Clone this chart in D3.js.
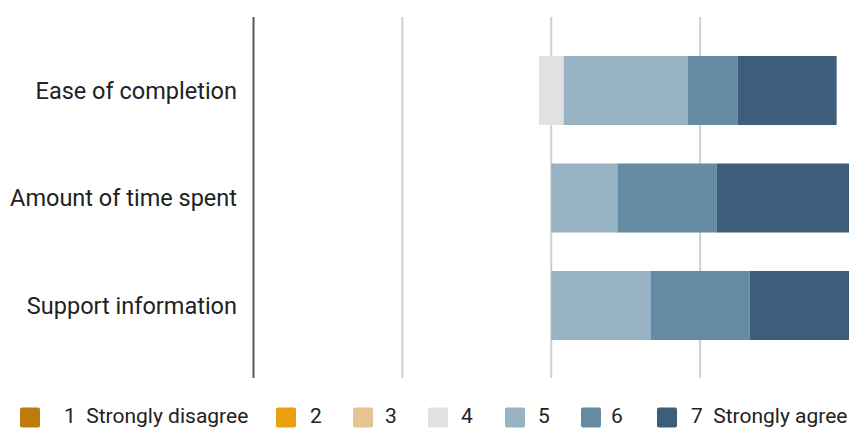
<!DOCTYPE html>
<html>
<head>
<meta charset="utf-8">
<script src="https://cdn.jsdelivr.net/npm/d3@7"></script>
<style>
  html, body { margin: 0; padding: 0; background: #fff; }
  svg { display: block; font-family: Roboto, "Noto Sans", sans-serif; }
</style>
</head>
<body>
<svg id="chart" width="850" height="429"></svg>
<script>
// Survey questions (rows) and Likert answer levels
const categories = ["Ease of completion", "Amount of time spent", "Support information"];
const levels = ["1", "2", "3", "4", "5", "6", "7"];
const levelLabels = ["1  Strongly disagree", "2", "3", "4", "5", "6", "7  Strongly agree"];
const levelColors = ["#bf7a0c", "#e9a00c", "#e6c48f", "#e1e1e1", "#97b3c4", "#648ba3", "#3c5e7a"];

// Share of responses (%) for each level, one array per question
const easeOfCompletion = [0, 0, 0, 8.3, 41.7, 16.7, 33.3];
const amountOfTimeSpent = [0, 0, 0, 0, 22.2, 33.3, 44.5];
const supportInformation = [0, 0, 0, 0, 33.3, 33.3, 33.4];
const seriesValues = [easeOfCompletion, amountOfTimeSpent, supportInformation];

const gridTicks = [-100, -50, 0, 50];

const svg = d3.select("#chart");

const x = d3.scaleLinear().domain([-100, 100]).range([253.5, 849]);
const y = d3.scaleBand().domain(categories).range([36.75, 359.25]).paddingInner(0.358).paddingOuter(0.179);

// Vertical grid lines; the leftmost acts as the axis line
svg.append("g").selectAll("line")
  .data(gridTicks)
  .join("line")
  .attr("x1", d => x(d)).attr("x2", d => x(d))
  .attr("y1", 17).attr("y2", 378)
  .attr("stroke", d => d === -100 ? "#5a5a5a" : "#cfcfcf")
  .attr("stroke-width", 2);

// Diverging stack: levels 1-3 and half of 4 to the left, rest to the right
const segments = [];
categories.forEach((cat, i) => {
  const vals = seriesValues[i];
  const leftTotal = vals[0] + vals[1] + vals[2] + vals[3] / 2;
  let start = -leftTotal;
  vals.forEach((v, j) => {
    segments.push({ cat, level: levels[j], x0: start, x1: start + v, color: levelColors[j] });
    start += v;
  });
});

svg.append("g").selectAll("rect")
  .data(segments.filter(d => d.x1 > d.x0))
  .join("rect")
  .attr("x", d => x(d.x0))
  .attr("width", d => x(d.x1) - x(d.x0))
  .attr("y", d => y(d.cat))
  .attr("height", y.bandwidth())
  .attr("fill", d => d.color);

// Question labels
svg.append("g").selectAll("text")
  .data(categories)
  .join("text")
  .attr("x", 237)
  .attr("y", d => y(d) + y.bandwidth() / 2)
  .attr("dy", "0.35em")
  .attr("text-anchor", "end")
  .attr("font-size", 23.5)
  .attr("fill", "#222")
  .text(d => d);

// Legend
const legendX = [20, 276, 353, 428, 505, 581, 657];
const legendTextX = [64, 310, 385, 461, 538, 611, 691];
const legend = svg.append("g").selectAll("g")
  .data(levels)
  .join("g");

legend.append("rect")
  .attr("x", (d, i) => legendX[i])
  .attr("y", 407.5)
  .attr("width", 20).attr("height", 20).attr("rx", 2)
  .attr("fill", (d, i) => levelColors[i]);

legend.append("text")
  .attr("x", (d, i) => legendTextX[i])
  .attr("y", 423)
  .attr("font-size", 21)
  .attr("fill", "#222")
  .attr("xml:space", "preserve")
  .style("white-space", "pre")
  .text((d, i) => levelLabels[i]);
</script>
</body>
</html>
